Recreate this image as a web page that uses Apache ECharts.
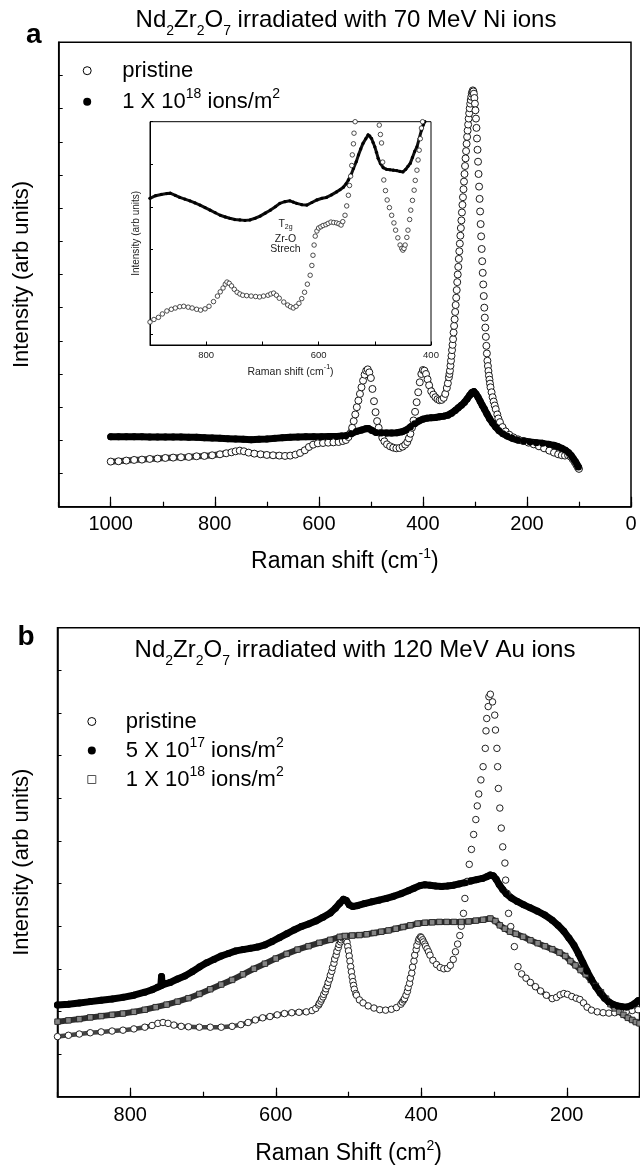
<!DOCTYPE html>
<html>
<head>
<meta charset="utf-8">
<script src="https://cdn.jsdelivr.net/npm/echarts@6/dist/echarts.min.js"></script>
<style>
html,body{margin:0;padding:0;background:#fff}
#chart{width:640px;height:1168px}
</style>
</head>
<body>
<div id="chart"></div>
<script>
// Raman spectra of Nd2Zr2O7 before and after swift heavy ion irradiation.
// Each point: [Raman shift (cm-1), intensity (arb. units)]

// (a) 70 MeV Ni ions
const niPristine = [[1000,1.36],[985,1.37],[970,1.39],[955,1.41],[940,1.42],[925,1.44],[910,1.45],[895,1.47],[880,1.48],[865,1.49],[850,1.50],[835,1.52],[820,1.53],[805,1.55],[790,1.58],[778,1.61],[768,1.64],[760,1.67],[752,1.69],[744,1.67],[735,1.63],[724,1.60],[712,1.58],[700,1.56],[688,1.55],[676,1.54],[665,1.53],[655,1.54],[645,1.57],[636,1.62],[627,1.70],[619,1.80],[611,1.87],[602,1.91],[592,1.92],[582,1.93],[572,1.94],[562,1.95],[554,1.98],[548,2.01],[543,2.10],[539,2.22],[536,2.38],[533,2.58],[530,2.78],[527,3.00],[524,3.20],[521,3.40],[518,3.60],[515,3.80],[512,3.98],[509,4.10],[506,4.14],[503,4.05],[500,3.88],[497,3.55],[494,3.18],[491,2.85],[488,2.58],[485,2.38],[482,2.22],[478,2.08],[474,1.97],[469,1.88],[463,1.82],[457,1.78],[451,1.76],[445,1.77],[439,1.81],[434,1.87],[430,1.95],[427,2.06],[424,2.20],[421,2.38],[418,2.60],[415,2.86],[412,3.15],[409,3.45],[406,3.75],[403,4.00],[400,4.12],[397,4.10],[394,4.00],[391,3.84],[388,3.66],[384,3.48],[380,3.38],[376,3.30],[372,3.24],[368,3.21],[364,3.22],[360,3.28],[357,3.40],[354,3.58],[352,3.72],[350,3.90],[349,4.00],[348,4.10],[347,4.25],[346,4.40],[345,4.55],[344,4.72],[343,4.88],[342,5.05],[341,5.25],[340,5.45],[339,5.65],[338,5.87],[337,6.08],[336,6.30],[335,6.53],[334,6.77],[333,7.00],[332,7.23],[331,7.47],[330,7.70],[329,7.93],[328,8.17],[327,8.40],[326,8.63],[325,8.87],[324,9.10],[323,9.33],[322,9.57],[321,9.80],[320,10.03],[319,10.27],[318,10.50],[317,10.72],[316,10.94],[315,11.15],[314,11.34],[313,11.52],[312,11.70],[311,11.86],[310,12.01],[309,12.15],[308,12.26],[307,12.36],[306,12.45],[305,12.51],[304,12.55],[303,12.52],[302,12.45],[301,12.32],[300,12.15],[299,11.95],[298,11.70],[297,11.42],[296,11.10],[295,10.76],[294,10.40],[293,10.03],[292,9.65],[291,9.28],[290,8.90],[289,8.52],[288,8.15],[287,7.77],[286,7.40],[285,7.05],[284,6.70],[283,6.35],[282,6.00],[281,5.70],[280,5.40],[279,5.12],[278,4.85],[277,4.62],[276,4.40],[275,4.24],[274,4.09],[273,3.95],[272,3.83],[271,3.71],[270,3.60],[268,3.45],[266,3.30],[264,3.17],[262,3.05],[260,2.94],[257,2.78],[255,2.66],[252,2.55],[247,2.40],[241,2.27],[234,2.17],[226,2.09],[217,2.03],[207,1.98],[197,1.93],[187,1.88],[177,1.82],[167,1.76],[157,1.69],[148,1.63],[140,1.58],[133,1.55],[127,1.54],[121,1.55],[116,1.51],[112,1.43],[108,1.34],[105,1.26],[102,1.18],[100,1.14]];

const niFluence18 = [[1000,2.11],[985,2.11],[970,2.11],[955,2.11],[940,2.11],[925,2.10],[910,2.10],[895,2.10],[880,2.10],[865,2.10],[850,2.09],[835,2.09],[820,2.08],[805,2.07],[790,2.06],[775,2.05],[760,2.04],[745,2.03],[730,2.02],[715,2.03],[700,2.04],[685,2.06],[670,2.08],[655,2.09],[640,2.10],[625,2.11],[610,2.11],[595,2.11],[580,2.12],[565,2.12],[556,2.13],[548,2.14],[538,2.20],[528,2.27],[518,2.31],[510,2.35],[505,2.36],[498,2.30],[490,2.24],[480,2.22],[470,2.22],[460,2.22],[450,2.23],[440,2.26],[432,2.31],[424,2.40],[416,2.50],[408,2.58],[400,2.64],[392,2.67],[384,2.68],[376,2.69],[368,2.71],[360,2.73],[352,2.76],[345,2.82],[338,2.90],[332,2.98],[326,3.06],[320,3.15],[315,3.25],[310,3.36],[306,3.44],[302,3.47],[298,3.40],[294,3.30],[290,3.18],[286,3.06],[282,2.95],[277,2.80],[272,2.66],[266,2.52],[260,2.40],[254,2.30],[246,2.20],[238,2.13],[228,2.06],[218,2.01],[206,1.98],[194,1.95],[182,1.93],[170,1.91],[158,1.88],[148,1.85],[140,1.81],[133,1.76],[126,1.70],[120,1.63],[115,1.54],[111,1.45],[107,1.36],[104,1.28],[101,1.20]];

// (a, inset) 900-400 cm-1 region, own intensity scale
const insetPristine = [[900,0.29],[893,0.35],[885,0.40],[878,0.48],[870,0.55],[862,0.59],[855,0.62],[847,0.65],[840,0.66],[832,0.64],[825,0.62],[817,0.59],[810,0.57],[802,0.60],[795,0.66],[787,0.77],[780,0.90],[775,1.00],[770,1.09],[766,1.18],[763,1.23],[759,1.20],[755,1.14],[750,1.06],[745,0.99],[740,0.95],[735,0.92],[728,0.91],[720,0.90],[712,0.89],[705,0.88],[698,0.90],[690,0.92],[685,0.95],[680,0.97],[675,0.92],[670,0.85],[662,0.76],[655,0.69],[650,0.65],[645,0.62],[640,0.66],[635,0.73],[630,0.84],[625,0.99],[620,1.18],[615,1.39],[612,1.62],[610,1.86],[608,2.10],[606,2.31],[603,2.43],[600,2.50],[596,2.53],[592,2.56],[587,2.58],[583,2.61],[578,2.64],[573,2.63],[568,2.62],[564,2.60],[560,2.57],[557,2.65],[553,2.80],[550,3.02],[547,3.27],[545,3.50],[543,3.72],[541,3.97],[540,4.22],[538,4.48],[537,4.73],[535,5.00],[533,5.30],[530,5.80],[497,5.60],[494,5.20],[492,4.92],[490,4.70],[488,4.50],[486,4.05],[484,3.63],[481,3.38],[478,3.16],[474,2.98],[470,2.80],[466,2.62],[463,2.45],[459,2.27],[455,2.10],[452,2.02],[450,1.98],[448,2.02],[446,2.10],[443,2.28],[441,2.45],[438,2.70],[436,2.92],[433,3.15],[430,3.39],[428,3.62],[425,3.86],[423,4.10],[421,4.33],[419,4.60],[417,4.85],[415,5.00],[413,5.09]];

const insetFluence18 = [[900,3.20],[890,3.26],[880,3.29],[870,3.31],[864,3.32],[855,3.27],[847,3.22],[838,3.18],[829,3.14],[820,3.09],[811,3.04],[802,2.98],[793,2.92],[784,2.86],[775,2.80],[766,2.76],[758,2.73],[749,2.70],[740,2.69],[731,2.68],[722,2.69],[713,2.73],[704,2.78],[695,2.85],[686,2.92],[677,3.00],[669,3.08],[660,3.12],[651,3.14],[645,3.11],[639,3.08],[630,3.05],[621,3.04],[612,3.10],[603,3.16],[594,3.20],[586,3.22],[577,3.28],[568,3.35],[562,3.40],[556,3.46],[551,3.54],[547,3.63],[542,3.76],[538,3.90],[533,4.06],[529,4.22],[525,4.36],[521,4.49],[516,4.60],[512,4.69],[509,4.67],[506,4.61],[503,4.51],[500,4.41],[497,4.28],[494,4.14],[490,4.02],[485,3.92],[479,3.88],[473,3.87],[467,3.86],[461,3.85],[455,3.83],[450,3.82],[445,3.88],[441,3.95],[437,4.02],[433,4.16],[429,4.30],[425,4.41],[421,4.60],[417,4.80],[414,4.92],[411,5.00]];

// (b) 120 MeV Au ions
const auPristine = [[900,1.41],[885,1.44],[870,1.47],[855,1.50],[840,1.52],[825,1.54],[810,1.56],[795,1.59],[780,1.63],[770,1.67],[762,1.72],[755,1.74],[748,1.72],[740,1.68],[730,1.65],[720,1.64],[705,1.63],[690,1.63],[675,1.63],[660,1.65],[648,1.69],[638,1.74],[628,1.80],[618,1.85],[608,1.88],[598,1.92],[588,1.95],[578,1.97],[568,1.98],[558,1.99],[550,2.02],[545,2.07],[541,2.15],[540,2.19],[538,2.24],[537,2.29],[535,2.34],[534,2.40],[532,2.46],[531,2.53],[529,2.60],[528,2.68],[526,2.76],[525,2.85],[523,2.94],[522,3.03],[520,3.13],[519,3.23],[517,3.32],[516,3.41],[514,3.50],[513,3.57],[511,3.63],[510,3.68],[508,3.72],[507,3.74],[505,3.75],[504,3.70],[503,3.66],[502,3.62],[501,3.52],[500,3.42],[499,3.30],[498,3.18],[497,3.05],[496,2.93],[495,2.81],[494,2.70],[493,2.61],[492,2.52],[490,2.42],[489,2.38],[485,2.27],[480,2.20],[473,2.13],[465,2.08],[457,2.04],[449,2.03],[441,2.05],[434,2.09],[428,2.17],[426,2.22],[424,2.27],[423,2.30],[421,2.38],[419,2.47],[418,2.56],[416,2.66],[415,2.78],[413,2.90],[412,3.04],[410,3.18],[409,3.32],[407,3.45],[406,3.55],[404,3.65],[403,3.70],[401,3.75],[400,3.73],[398,3.68],[397,3.63],[395,3.58],[394,3.53],[392,3.47],[390,3.40],[388,3.32],[384,3.20],[379,3.10],[374,3.03],[369,3.00],[364,3.01],[360,3.08],[356,3.22],[353,3.40],[350,3.58],[347,3.78],[345,4.00],[342,4.30],[340,4.65],[337,5.05],[334,5.45],[331,5.80],[328,6.15],[325,6.50],[323,6.82],[321,7.10],[318,7.43],[315,7.74],[312,8.17],[311,8.58],[310,8.87],[308,9.15],[307,9.38],[305,9.44],[302,9.26],[299,8.95],[298,8.60],[296,8.17],[295,7.74],[294,7.23],[292,6.77],[290,6.30],[288,5.86],[285,5.48],[284,5.08],[282,4.77],[280,4.30],[277,3.99],[272,3.52],[267,3.05],[262,2.88],[256,2.78],[250,2.68],[243,2.58],[236,2.48],[228,2.38],[220,2.30],[214,2.33],[209,2.39],[204,2.42],[199,2.40],[193,2.35],[187,2.31],[182,2.28],[177,2.20],[172,2.10],[166,2.03],[158,1.99],[150,1.97],[142,1.96],[134,1.97],[126,1.99],[118,2.00],[110,2.02],[102,2.04]];

const auFluence17 = [[900,2.15],[885,2.17],[870,2.20],[855,2.23],[840,2.26],[825,2.29],[810,2.33],[795,2.38],[780,2.45],[770,2.51],[762,2.57],[758,2.60],[757,2.82],[756,2.62],[745,2.68],[735,2.76],[725,2.83],[715,2.93],[705,3.04],[695,3.14],[685,3.22],[675,3.30],[665,3.36],[655,3.42],[645,3.45],[635,3.48],[625,3.51],[615,3.56],[605,3.64],[595,3.73],[585,3.82],[575,3.91],[565,3.99],[555,4.05],[545,4.12],[535,4.21],[525,4.31],[518,4.42],[512,4.54],[507,4.63],[503,4.60],[499,4.50],[494,4.46],[488,4.48],[478,4.53],[468,4.57],[458,4.61],[448,4.65],[438,4.70],[428,4.76],[418,4.83],[410,4.89],[402,4.95],[395,4.97],[388,4.96],[380,4.94],[372,4.93],[364,4.94],[356,4.96],[348,4.99],[340,5.02],[332,5.06],[324,5.09],[316,5.12],[310,5.16],[305,5.20],[301,5.18],[297,5.10],[293,4.98],[288,4.86],[283,4.76],[276,4.66],[268,4.58],[259,4.50],[250,4.43],[240,4.35],[230,4.26],[220,4.14],[212,4.02],[204,3.88],[197,3.72],[190,3.55],[184,3.36],[178,3.15],[172,2.94],[166,2.75],[160,2.58],[154,2.43],[148,2.31],[142,2.22],[136,2.16],[130,2.13],[124,2.11],[118,2.10],[112,2.13],[107,2.18],[102,2.25]];

const auFluence18 = [[900,1.76],[885,1.79],[870,1.82],[855,1.86],[840,1.89],[825,1.92],[810,1.95],[795,1.99],[780,2.04],[765,2.10],[750,2.16],[735,2.23],[720,2.31],[705,2.41],[690,2.52],[675,2.63],[660,2.74],[645,2.87],[630,3.00],[615,3.12],[600,3.24],[585,3.35],[570,3.45],[555,3.53],[540,3.61],[525,3.68],[512,3.75],[505,3.77],[495,3.78],[485,3.79],[475,3.81],[465,3.84],[455,3.87],[445,3.90],[435,3.94],[425,3.98],[415,4.02],[405,4.06],[395,4.08],[385,4.09],[375,4.10],[365,4.10],[355,4.10],[345,4.10],[335,4.11],[325,4.13],[315,4.15],[305,4.18],[298,4.12],[292,4.02],[285,3.94],[278,3.87],[270,3.82],[260,3.75],[250,3.67],[240,3.60],[230,3.53],[220,3.46],[210,3.38],[202,3.30],[195,3.18],[188,3.08],[181,2.97],[174,2.87],[167,2.74],[160,2.60],[153,2.45],[146,2.30],[140,2.17],[134,2.07],[128,1.99],[122,1.92],[116,1.85],[110,1.80],[105,1.75],[100,1.72]];

// axis tick labels
const labelsA = [0, 200, 400, 600, 800, 1000];
const labelsB = [200, 400, 600, 800];
const labelsInset = [400, 600, 800];
const insetTicksY = [0, 1, 2, 3, 4, 5];

// shift ranges where the pristine points spread apart on steep peak flanks
const niSparse = [[255, 352], [386, 428], [478, 540]];
const auSparse = [[255, 422], [488, 532]];

const FONT = "'Liberation Sans', Arial, Helvetica, sans-serif";
const SUP = (size, lh) => ({fontSize: size, lineHeight: lh, verticalAlign: 'top', fontFamily: FONT, color: '#000'});
const supText = s => s.replace(/\^(-?\d+)/g, '{sup|$1}');
const plain = v => String(v);

const chart = echarts.init(document.getElementById('chart'), null, {renderer: 'canvas'});

// thick stroke joining the dense points of a spectrum; colour may come from a visualMap
function band(name, data, xi, yi, width, color) {
  const lineStyle = {width, join: 'round', cap: 'round'};
  if (color) lineStyle.color = color;
  return {type: 'line', name, data, xAxisIndex: xi, yAxisIndex: yi, symbol: 'none', silent: true, lineStyle, z: 2};
}
function points(name, data, xi, yi, symbol, size, fill, stroke, bw) {
  return {type: 'scatter', name, data, xAxisIndex: xi, yAxisIndex: yi, symbol, symbolSize: size, silent: true,
    itemStyle: {color: fill, borderColor: stroke, borderWidth: bw, opacity: 1}, z: 3};
}
const axisLine = w => ({show: true, onZero: false, lineStyle: {color: '#000', width: w}});
function xMinor(grid, min, max, len, w) {
  return {type: 'value', gridIndex: grid, min, max, inverse: true, interval: 100, position: 'bottom',
    axisLine: axisLine(w), axisTick: {show: true, inside: true, length: len, lineStyle: {color: '#000', width: 1.2}},
    axisLabel: {show: false}, splitLine: {show: false}};
}
function xMajor(grid, min, max, values, len, margin, name, gap) {
  return {type: 'value', gridIndex: grid, min, max, inverse: true, position: 'bottom',
    axisLine: {show: false, onZero: false},
    axisTick: {show: true, inside: true, length: len, customValues: values, lineStyle: {color: '#000', width: 1.2}},
    axisLabel: {show: true, customValues: values, formatter: plain, margin, fontSize: 20, color: '#000', fontFamily: FONT},
    splitLine: {show: false},
    name, nameLocation: 'middle', nameGap: gap,
    nameTextStyle: {fontSize: 23, lineHeight: 30, color: '#000', fontFamily: FONT, rich: {sup: SUP(14, 14)}}};
}
function yAxisDef(grid, min, max, name, gap) {
  return {type: 'value', gridIndex: grid, min, max, interval: 1,
    axisLine: axisLine(1.5), axisTick: {show: true, inside: true, length: 4, lineStyle: {color: '#000', width: 1}},
    axisLabel: {show: false}, splitLine: {show: false},
    name, nameLocation: 'middle', nameGap: gap,
    nameTextStyle: {fontSize: 22, color: '#000', fontFamily: FONT}};
}

const NAME_P = 'pristine';
const NAME_17 = '5 X 10^17 ions/m^2';
const NAME_18 = '1 X 10^18 ions/m^2';

const series = [
  band(NAME_P, niPristine, 0, 0, 6, null),                             // 0
  points(NAME_P, niPristine, 0, 0, 'circle', 7, '#fff', '#1a1a1a', 1), // 1
  band(NAME_18, niFluence18, 0, 0, 7, '#000'),                         // 2
  points(NAME_18, niFluence18, 0, 0, 'circle', 7, '#000', '#000', 0),  // 3
  band(NAME_18, insetFluence18, 2, 1, 3, '#111'),                      // 4
  points(NAME_18, insetFluence18, 2, 1, 'circle', 3.2, '#000', '#000', 0), // 5
  points(NAME_P, insetPristine, 2, 1, 'circle', 4.5, '#fff', '#222', 0.8), // 6
  band(NAME_P, auPristine, 3, 2, 4.5, null),                           // 7
  points(NAME_P, auPristine, 3, 2, 'circle', 6.5, '#fff', '#222', 1),  // 8
  band(NAME_18, auFluence18, 3, 2, 6, '#2e2e2e'),                      // 9
  points(NAME_18, auFluence18, 3, 2, 'rect', 5.5, '#858585', '#1e1e1e', 0.8), // 10
  band(NAME_17, auFluence17, 3, 2, 7, '#000'),                         // 11
  points(NAME_17, auFluence17, 3, 2, 'circle', 7, '#000', '#000', 0)   // 12
];

const hide = ranges => ranges.map(([lo, hi]) => ({gte: lo, lte: hi, color: 'rgba(255,255,255,0)'}));

const legendText = (size, lh) => ({fontSize: size, lineHeight: lh, color: '#000', fontFamily: FONT,
  rich: {sup: SUP(14, 14)}});

const option = {
  animation: false,
  backgroundColor: '#fff',
  grid: [
    {left: 58.7, top: 42.3, width: 572.3, height: 464.4, show: true, borderColor: '#000', borderWidth: 1.5, outerBoundsMode: 'none'},
    {left: 150, top: 121.7, width: 281, height: 223.3, show: true, borderColor: '#000', borderWidth: 1, outerBoundsMode: 'none'},
    {left: 57.5, top: 627.7, width: 582, height: 469, show: true, borderColor: '#000', borderWidth: 1.5, outerBoundsMode: 'none'}
  ],
  xAxis: [
    xMinor(0, 0, 1100, 5, 1.5),
    xMajor(0, 0, 1100, labelsA, 10, 7.5, 'Raman shift (cm{sup|-1})', 40),
    {type: 'value', gridIndex: 1, min: 400, max: 900, inverse: true, interval: 100, position: 'bottom',
      axisLine: axisLine(1), axisTick: {show: true, inside: true, length: 3.5, lineStyle: {color: '#000', width: 1}},
      axisLabel: {show: true, customValues: labelsInset, formatter: plain, margin: 5, fontSize: 9.5, color: '#222', fontFamily: FONT},
      splitLine: {show: false},
      name: 'Raman shift (cm{sup|-1})', nameLocation: 'middle', nameGap: 19,
      nameTextStyle: {fontSize: 10.5, lineHeight: 16, color: '#222', fontFamily: FONT, rich: {sup: SUP(7, 7)}}},
    xMinor(2, 100, 900, 5, 1.5),
    xMajor(2, 100, 900, labelsB, 9, 8.8, 'Raman Shift (cm{sup|2})', 42)
  ],
  yAxis: [
    yAxisDef(0, 0, 14, 'Intensity (arb units)', 26),
    {type: 'value', gridIndex: 1, min: -0.25, max: 5,
      axisLine: axisLine(1), axisTick: {show: true, inside: true, length: 3, customValues: insetTicksY, lineStyle: {color: '#000', width: 1}},
      axisLabel: {show: false}, splitLine: {show: false},
      name: 'Intensity (arb units)', nameLocation: 'middle', nameGap: 9,
      nameTextStyle: {fontSize: 10, color: '#222', fontFamily: FONT}},
    yAxisDef(2, 0, 11, 'Intensity (arb units)', 25)
  ],
  visualMap: [
    {type: 'piecewise', show: false, seriesIndex: 0, dimension: 0, pieces: hide(niSparse), outOfRange: {color: '#3a3a3a'}},
    {type: 'piecewise', show: false, seriesIndex: 7, dimension: 0, pieces: hide(auSparse), outOfRange: {color: '#444'}}
  ],
  legend: [
    {orient: 'vertical', left: 82.7, top: 55.7, padding: 0, itemGap: 1, itemWidth: 8, itemHeight: 8,
      selectedMode: false, symbolKeepAspect: true,
      textStyle: Object.assign(legendText(22, 30), {padding: [0, 0, 0, 26]}),
      formatter: supText,
      data: [
        {name: NAME_P, icon: 'circle', itemStyle: {color: '#fff', borderColor: '#000', borderWidth: 1}},
        {name: NAME_18, icon: 'circle', itemStyle: {color: '#000', borderWidth: 0}}
      ]},
    {orient: 'vertical', left: 87.3, top: 707, padding: 0, itemGap: 0, itemWidth: 8, itemHeight: 8,
      selectedMode: false, symbolKeepAspect: true,
      textStyle: Object.assign(legendText(22, 29), {padding: [0, 0, 0, 25]}),
      formatter: supText,
      data: [
        {name: NAME_P, icon: 'circle', itemStyle: {color: '#fff', borderColor: '#000', borderWidth: 1}},
        {name: NAME_17, icon: 'circle', itemStyle: {color: '#000', borderWidth: 0}},
        {name: NAME_18, icon: 'rect', itemStyle: {color: '#fff', borderColor: '#555', borderWidth: 1}}
      ]}
  ],
  graphic: [
    {type: 'text', x: 346, y: 2.5, silent: true, style: {
      text: '{n|Nd}{s|2}{n|Zr}{s|2}{n|O}{s|7}{n| irradiated with 70 MeV Ni ions}', align: 'center', verticalAlign: 'top',
      rich: {n: {fontSize: 24, lineHeight: 36, fontFamily: FONT, fill: '#000'},
             s: {fontSize: 14, lineHeight: 15, verticalAlign: 'bottom', fontFamily: FONT, fill: '#000'}}}},
    {type: 'text', x: 355, y: 632, silent: true, style: {
      text: '{n|Nd}{s|2}{n|Zr}{s|2}{n|O}{s|7}{n| irradiated with 120 MeV Au ions}', align: 'center', verticalAlign: 'top',
      rich: {n: {fontSize: 24, lineHeight: 36, fontFamily: FONT, fill: '#000'},
             s: {fontSize: 14, lineHeight: 15, verticalAlign: 'bottom', fontFamily: FONT, fill: '#000'}}}},
    {type: 'text', x: 26, y: 49, silent: true, style: {text: 'a', fontSize: 28, fontWeight: 'bold', fontFamily: FONT, fill: '#000', align: 'left', verticalAlign: 'bottom'}},
    {type: 'text', x: 17.5, y: 651, silent: true, style: {text: 'b', fontSize: 28, fontWeight: 'bold', fontFamily: FONT, fill: '#000', align: 'left', verticalAlign: 'bottom'}},
    {type: 'text', x: 285.5, y: 224, silent: true, style: {
      text: '{t|T}{g|2g}', align: 'center', verticalAlign: 'middle',
      rich: {t: {fontSize: 10.5, lineHeight: 14, fontFamily: FONT, fill: '#222'},
             g: {fontSize: 7, lineHeight: 8, verticalAlign: 'bottom', fontFamily: FONT, fill: '#222'}}}},
    {type: 'text', x: 285.5, y: 239, silent: true, style: {text: 'Zr-O', fontSize: 10.5, fontFamily: FONT, fill: '#222', align: 'center', verticalAlign: 'middle'}},
    {type: 'text', x: 285.5, y: 249.5, silent: true, style: {text: 'Strech', fontSize: 10.5, fontFamily: FONT, fill: '#222', align: 'center', verticalAlign: 'middle'}}
  ],
  series
};

chart.setOption(option);
</script>
</body>
</html>
